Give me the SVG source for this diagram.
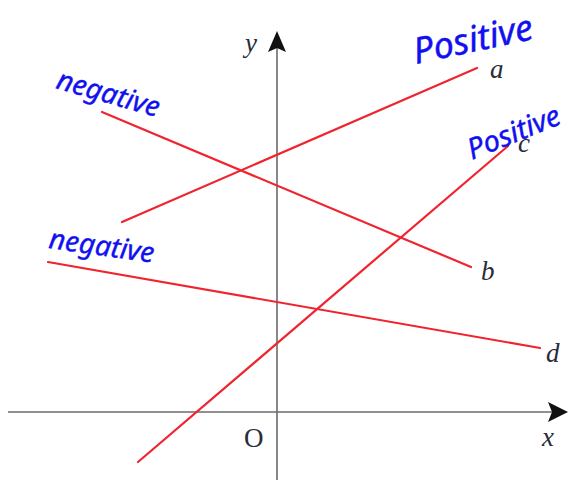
<svg xmlns="http://www.w3.org/2000/svg" width="571" height="482" viewBox="0 0 571 482">
<style>
.axis{stroke:#6b6b6b;stroke-width:1.6;fill:none}
.ln{stroke:#f0242e;stroke-width:2.2;fill:none;stroke-linecap:round}
.lbl{font-family:"Liberation Serif",serif;font-style:italic;font-size:27px;fill:#2b2b3a}
.o{font-family:"Liberation Serif",serif;font-size:27px;fill:#2b2b3a}
.hw{font-family:"Noto Sans",sans-serif;font-style:italic;fill:#1010f0;stroke:#1010f0;stroke-width:0.4}
</style>
<g id="axes">
<line class="axis" x1="8" y1="412" x2="552" y2="412"/>
<path d="M548,402 L568,412 L548,422 L552,412 Z" fill="#111"/>
<line class="axis" x1="277" y1="480" x2="277" y2="48"/>
<path d="M268,52 L277,31 L286,52 L277,48 Z" fill="#111"/>
<text class="lbl" x="245" y="52">y</text>
<text class="lbl" x="542" y="446">x</text>
<text class="o" x="244" y="447">O</text>
</g>
<g id="connectors">
<line id="line-a" class="ln" x1="122" y1="222" x2="477" y2="68"/>
<line id="line-b" class="ln" x1="102" y1="112" x2="471" y2="267"/>
<line id="line-c" class="ln" x1="138" y1="462" x2="508" y2="146"/>
<line id="line-d" class="ln" x1="48" y1="262" x2="540" y2="348"/>
</g>
<g id="label-a"><text class="lbl" x="490" y="78">a</text></g>
<g id="label-b"><text class="lbl" x="481" y="280">b</text></g>
<g id="label-c"><text class="lbl" x="518" y="152">c</text></g>
<g id="label-d"><text class="lbl" x="546" y="362">d</text></g>
<g id="note-positive-a"><text class="hw" font-size="36" transform="translate(416,64) rotate(-12)">Positive</text></g>
<g id="note-positive-c"><text class="hw" font-size="29" transform="translate(472,160) rotate(-22)">Positive</text></g>
<g id="note-negative-b"><text class="hw" font-size="28" transform="translate(55,88) rotate(16)">negative</text></g>
<g id="note-negative-d"><text class="hw" font-size="28" transform="translate(48,248) rotate(8)">negative</text></g>
</svg>
